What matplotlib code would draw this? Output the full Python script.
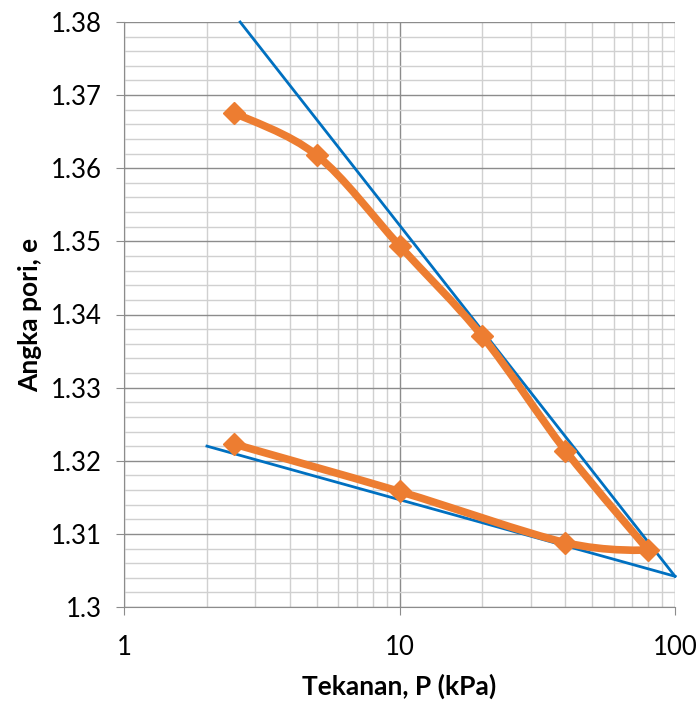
import numpy as np
import matplotlib.pyplot as plt
from matplotlib.path import Path
from matplotlib.patches import PathPatch
from matplotlib.ticker import FixedLocator, FuncFormatter, MultipleLocator

# consolidation test: loading then unloading
pressure = [2.5, 5, 10, 20, 40, 80, 40, 10, 2.5]
void_ratio = [1.3676, 1.3618, 1.3494, 1.3370, 1.3214, 1.3078, 1.3088, 1.3158, 1.3223]

# straight tangent lines (end points)
cc_line_x = [2.64, 100]
cc_line_y = [1.38, 1.3042]
cs_line_x = [2, 100]
cs_line_y = [1.322, 1.3042]

orange = "#ED7D31"
blue = "#0070C0"

plt.rcParams["font.family"] = ["Lato", "DejaVu Sans"]

fig = plt.figure(figsize=(6.99, 7.04), dpi=100)
ax = fig.add_axes([124 / 699, 1 - 607 / 704, 551 / 699, 585 / 704])
ax.set_xscale("log")
ax.set_xlim(1, 100)
ax.set_ylim(1.30, 1.38)


def smooth_path(xs, ys):
    # smoothed line like Excel: cubic Bezier through the points, built in pixel-ish space
    sx, sy = 551 / 2.0, 585 / 0.08
    px = np.log10(xs) * sx
    py = np.array(ys) * sy
    n = len(px)
    t = 1 / 6
    tang = []
    for i in range(n):
        a = max(i - 1, 0)
        b = min(i + 1, n - 1)
        d = np.array([px[b] - px[a], py[b] - py[a]]) * t
        if 0 < i < n - 1 and (px[i + 1] - px[i]) * (px[i] - px[i - 1]) < 0:
            d = d * 0  # turning point: no overshoot
        tang.append(d)
    verts = [(px[0], py[0])]
    codes = [Path.MOVETO]
    for i in range(n - 1):
        c1 = (px[i] + tang[i][0], py[i] + tang[i][1])
        c2 = (px[i + 1] - tang[i + 1][0], py[i + 1] - tang[i + 1][1])
        verts += [c1, c2, (px[i + 1], py[i + 1])]
        codes += [Path.CURVE4] * 3
    verts = [(10 ** (vx / sx), vy / sy) for vx, vy in verts]
    return Path(verts, codes)


ax.plot(cc_line_x, cc_line_y, color=blue, linewidth=2, zorder=3, clip_on=False)
ax.plot(cs_line_x, cs_line_y, color=blue, linewidth=2, zorder=3, clip_on=False)

ax.add_patch(PathPatch(smooth_path(pressure, void_ratio), facecolor="none",
                       edgecolor=orange, linewidth=5.5, capstyle="round",
                       joinstyle="round", zorder=4))
ax.plot(pressure, void_ratio, linestyle="none", marker="D", markersize=11.5,
        color=orange, zorder=5)

ax.xaxis.set_major_locator(FixedLocator([1, 10, 100]))
ax.xaxis.set_major_formatter(FuncFormatter(lambda v, p: f"{v:g}"))
ax.xaxis.set_minor_locator(FixedLocator([m * d for d in (1, 10) for m in range(2, 10)]))
ax.xaxis.set_minor_formatter(FuncFormatter(lambda v, p: ""))
ax.yaxis.set_major_locator(MultipleLocator(0.01))
ax.yaxis.set_major_formatter(FuncFormatter(lambda v, p: f"{round(v, 2):g}"))
ax.yaxis.set_minor_locator(MultipleLocator(0.002))

ax.grid(True, which="major", color="#8c8c8c", linewidth=1.0)
ax.grid(True, which="minor", color="#d0d0d0", linewidth=1.0)
ax.set_axisbelow(True)

ax.tick_params(axis="both", which="major", direction="out", length=6,
               color="#8c8c8c", labelsize=18.5)
ax.tick_params(axis="both", which="minor", length=0)
ax.tick_params(axis="x", pad=14)
ax.tick_params(axis="y", pad=10)

for side in ("top", "right"):
    ax.spines[side].set_visible(False)
for side in ("left", "bottom"):
    ax.spines[side].set_color("#8c8c8c")

ax.set_xlabel("Tekanan, P (kPa)", fontsize=19, fontweight="bold", labelpad=10)
ax.set_ylabel("Angka pori, e", fontsize=19, fontweight="bold", labelpad=6)

plt.savefig("out.png", dpi=100)
plt.close()
